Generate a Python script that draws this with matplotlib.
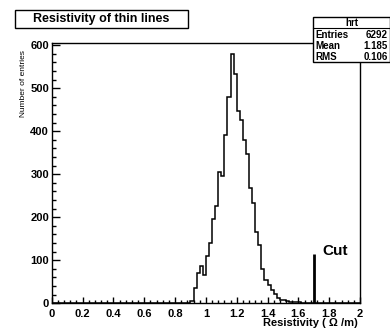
import numpy as np
import matplotlib.pyplot as plt
from matplotlib.patches import Rectangle
from matplotlib.lines import Line2D
from matplotlib.ticker import MultipleLocator

plt.rcParams['font.family'] = ['Liberation Sans', 'DejaVu Sans']

# histogram "hrt": 100 bins of 0.02 from 0 to 2, non-empty bins start at 0.90
bin_edges = np.round(np.arange(101) * 0.02, 2)
first_bin = 45
bin_counts = [6, 36, 70, 86, 66, 110, 140, 195, 225, 305,
              296, 391, 480, 579, 534, 448, 425, 379, 348, 268,
              232, 165, 135, 80, 55, 42, 30, 22, 13, 8,
              7, 6, 4, 3, 3, 2, 1, 1]
counts = np.zeros(100)
counts[first_bin:first_bin + len(bin_counts)] = bin_counts

cut_value = 1.70
cut_height = 115

stats_names = ['Entries', 'Mean', 'RMS']
stats_values = ['6292', '1.185', '0.106']

xticks = np.round(np.arange(0, 2.01, 0.2), 1)
xtick_labels = ['0', '0.2', '0.4', '0.6', '0.8', '1', '1.2', '1.4', '1.6', '1.8', '2']
yticks = [0, 100, 200, 300, 400, 500, 600]

W, H = 390, 330
fig = plt.figure(figsize=(3.9, 3.3), dpi=100)
ax = fig.add_axes([51.7 / W, 1 - 303.3 / H, (360 - 51.7) / W, (303.3 - 43) / H])

ax.stairs(counts, bin_edges, color='black', lw=1.1)
ax.vlines(cut_value, 0, cut_height, color='black', lw=2.0)
ax.text(1.755, 112, 'Cut', fontsize=11, fontweight='bold', ha='left', va='baseline')

ax.set_xlim(0, 2)
ax.set_ylim(0, 605)
ax.set_xticks(xticks)
ax.set_xticklabels(xtick_labels)
ax.set_yticks(yticks)
ax.xaxis.set_minor_locator(MultipleLocator(0.04))
ax.yaxis.set_minor_locator(MultipleLocator(20))
ax.tick_params(axis='x', which='major', direction='in', length=4, width=1, pad=4,
               labelsize=8, top=False)
ax.tick_params(axis='x', which='minor', direction='in', length=2.2, width=1, top=False)
ax.tick_params(axis='y', which='major', direction='in', length=6, width=1, pad=2,
               labelsize=8, right=False)
ax.tick_params(axis='y', which='minor', direction='in', length=2.8, width=1, right=False)
for lab in ax.get_xticklabels() + ax.get_yticklabels():
    lab.set_fontweight('bold')
for sp in ax.spines.values():
    sp.set_linewidth(1.0)

fig.text(358 / W, 1 - 323.5 / H, 'Resistivity ( \u03a9 /m)', ha='right', va='center',
         fontsize=8, fontweight='bold')
fig.text(23.5 / W, 1 - 50 / H, 'Number of entries', rotation=90, ha='center', va='top',
         fontsize=6)

# title box
fig.add_artist(Rectangle((15 / W, 1 - 27.5 / H), (188 - 15) / W, 17.5 / H,
                         transform=fig.transFigure, fill=True, facecolor='white',
                         edgecolor='black', lw=1.0))
fig.text((15 + 188) / 2 / W, 1 - 18.7 / H, 'Resistivity of thin lines', ha='center',
         va='center', fontsize=9, fontweight='bold')

# stats box
bx0, bx1, by0, by1 = 313.3, 389.5, 16.7, 61.5
fig.add_artist(Rectangle((bx0 / W, 1 - by1 / H), (bx1 - bx0) / W, (by1 - by0) / H,
                         transform=fig.transFigure, facecolor='white',
                         edgecolor='black', lw=1.0, zorder=5))
fig.add_artist(Line2D([bx0 / W, bx1 / W], [1 - 28.3 / H, 1 - 28.3 / H],
                      transform=fig.transFigure, color='black', lw=0.8, zorder=6))
fig.text(352 / W, 1 - 22.5 / H, 'hrt', ha='center', va='center', fontsize=7,
         fontweight='bold', zorder=7)
for i, (nm, val) in enumerate(zip(stats_names, stats_values)):
    yy = 1 - (34.8 + i * 10.9) / H
    fig.text(315 / W, yy, nm, ha='left', va='center', fontsize=7, fontweight='bold', zorder=7)
    fig.text(388 / W, yy, val, ha='right', va='center', fontsize=7, fontweight='bold', zorder=7)

fig.savefig('out.png', dpi=100)
